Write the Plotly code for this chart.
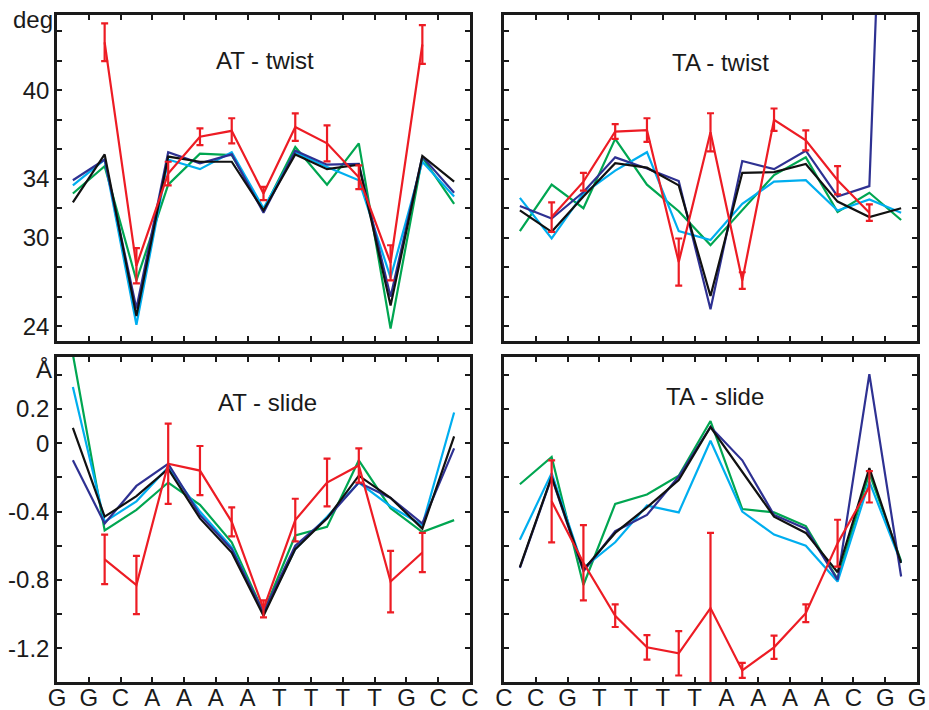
import plotly.graph_objects as go

# ---------------- data ----------------
seq_AT = ["G", "G", "C", "A", "A", "A", "A", "T", "T", "T", "T", "G", "C", "C"]
seq_TA = ["C", "C", "G", "T", "T", "T", "T", "A", "A", "A", "A", "C", "G", "G"]
steps = [0.5 + i for i in range(13)]          # base-pair steps between letters
red_steps = steps[1:12]                        # red series covers steps 2..12

# AT - twist (deg)
at_twist_green = [33.0, 34.85, 27.1, 33.6, 35.7, 35.6, 31.9, 36.15, 33.6, 36.4, 23.85, 35.45, 32.3]
at_twist_cyan = [33.55, 35.3, 24.1, 35.3, 34.65, 35.8, 32.0, 35.8, 34.8, 33.9, 27.3, 35.15, 32.8]
at_twist_blue = [33.9, 35.3, 25.2, 35.8, 35.05, 35.65, 31.7, 35.9, 34.95, 35.0, 26.0, 35.5, 33.05]
at_twist_black = [32.4, 35.65, 24.7, 35.5, 35.15, 35.15, 31.85, 35.65, 34.65, 34.95, 25.4, 35.55, 33.8]
at_twist_red = [43.25, 28.1, 34.35, 36.85, 37.25, 33.0, 37.5, 36.4, 34.1, 28.3, 43.1]
at_twist_red_err = [1.28, 1.2, 0.8, 0.57, 0.85, 0.45, 0.93, 1.22, 0.81, 1.19, 1.32]

# TA - twist (deg)
ta_twist_green = [30.45, 33.6, 32.0, 36.7, 33.6, 31.8, 29.5, 31.9, 34.25, 35.45, 31.75, 33.05, 31.2]
ta_twist_cyan = [32.7, 29.95, 33.0, 34.55, 35.8, 30.45, 29.85, 32.3, 33.8, 33.9, 31.85, 32.6, 31.7]
ta_twist_blue = [32.15, 31.3, 33.1, 35.45, 34.7, 33.85, 25.15, 35.2, 34.65, 35.9, 32.8, 33.5, 90.0]
ta_twist_black = [31.85, 30.4, 32.8, 35.05, 34.75, 33.55, 26.05, 34.4, 34.45, 35.0, 32.45, 31.4, 32.0]
ta_twist_red = [31.4, 33.8, 37.2, 37.3, 28.35, 37.15, 27.1, 38.0, 36.6, 33.9, 31.7]
ta_twist_red_err = [1.0, 0.6, 0.5, 0.8, 1.6, 1.29, 0.56, 0.76, 0.68, 0.96, 0.56]

# AT - slide (Angstrom)
at_slide_green = [0.52, -0.51, -0.39, -0.23, -0.36, -0.58, -0.99, -0.54, -0.49, -0.10, -0.38, -0.52, -0.45]
at_slide_cyan = [0.33, -0.46, -0.34, -0.14, -0.40, -0.61, -1.0, -0.62, -0.43, -0.23, -0.37, -0.48, 0.18]
at_slide_blue = [-0.10, -0.47, -0.25, -0.12, -0.42, -0.62, -0.99, -0.60, -0.44, -0.23, -0.32, -0.47, -0.03]
at_slide_black = [0.09, -0.43, -0.31, -0.15, -0.44, -0.64, -1.01, -0.62, -0.44, -0.19, -0.32, -0.50, 0.04]
at_slide_red = [-0.68, -0.83, -0.12, -0.16, -0.46, -0.97, -0.45, -0.23, -0.13, -0.81, -0.64]
at_slide_red_err = [0.145, 0.17, 0.235, 0.144, 0.085, 0.05, 0.125, 0.14, 0.10, 0.18, 0.115]

# TA - slide (Angstrom)
ta_slide_green = [-0.24, -0.08, -0.83, -0.355, -0.30, -0.19, 0.13, -0.385, -0.405, -0.485, -0.795, -0.175, -0.69]
ta_slide_cyan = [-0.565, -0.175, -0.73, -0.58, -0.365, -0.405, 0.015, -0.40, -0.535, -0.60, -0.81, -0.225, -0.70]
ta_slide_blue = [-0.73, -0.20, -0.75, -0.515, -0.42, -0.195, 0.095, -0.10, -0.42, -0.50, -0.80, 0.405, -0.78]
ta_slide_black = [-0.725, -0.195, -0.74, -0.525, -0.375, -0.215, 0.095, -0.17, -0.43, -0.525, -0.755, -0.145, -0.70]
ta_slide_red = [-0.34, -0.70, -1.01, -1.195, -1.23, -0.965, -1.33, -1.195, -0.995, -0.585, -0.255]
ta_slide_red_err = [0.24, 0.22, 0.066, 0.072, 0.13, 0.44, 0.044, 0.068, 0.052, 0.137, 0.092]

# y ticks
twist_tickvals = [24, 26, 28, 30, 32, 34, 36, 38, 40, 42, 44]
twist_ticktext = ["24", "", "", "30", "", "34", "", "", "40", "", ""]
slide_tickvals = [-1.2, -1.0, -0.8, -0.6, -0.4, -0.2, 0, 0.2, 0.4]
slide_ticktext = ["-1.2", "", "-0.8", "", "-0.4", "", "0", "0.2", ""]

panel_titles = ["AT - twist", "TA - twist", "AT - slide", "TA - slide"]

# ---------------- style ----------------
GREEN = "#00A651"
CYAN = "#00AEEF"
BLUE = "#2E3192"
BLACK = "#111111"
RED = "#ED1C24"
FONT = "Liberation Sans, Arial, sans-serif"
LW = 2.2

fig = go.Figure()

panels = [
    ("x", "y", [at_twist_green, at_twist_cyan, at_twist_blue, at_twist_black], at_twist_red, at_twist_red_err),
    ("x2", "y2", [ta_twist_green, ta_twist_cyan, ta_twist_blue, ta_twist_black], ta_twist_red, ta_twist_red_err),
    ("x3", "y3", [at_slide_green, at_slide_cyan, at_slide_blue, at_slide_black], at_slide_red, at_slide_red_err),
    ("x4", "y4", [ta_slide_green, ta_slide_cyan, ta_slide_blue, ta_slide_black], ta_slide_red, ta_slide_red_err),
]
colors = [GREEN, CYAN, BLUE, BLACK]

for xa, ya, series, red, red_err in panels:
    for s, c in zip(series, colors):
        fig.add_trace(go.Scatter(x=steps, y=s, mode="lines", xaxis=xa, yaxis=ya,
                                 line=dict(color=c, width=LW), showlegend=False, hoverinfo="skip"))
    fig.add_trace(go.Scatter(x=red_steps, y=red, mode="lines", xaxis=xa, yaxis=ya,
                             line=dict(color=RED, width=LW), showlegend=False,
                             error_y=dict(type="data", array=red_err, color=RED, thickness=2.2, width=3.5)))

W, H = 929, 710
xl = [57 / W, 470 / W]
xr = [504 / W, 917 / W]
yt = [1 - 341 / H, 1 - 15 / H]
yb = [1 - 682 / H, 1 - 357 / H]

axis_common = dict(showline=True, linecolor="#1a1a1a", linewidth=2.5, mirror="ticks",
                   ticks="inside", ticklen=5, tickwidth=2, tickcolor="#1a1a1a",
                   showgrid=False, zeroline=False, automargin=False,
                   tickfont=dict(family=FONT, size=24, color="#1a1a1a"))

xtick = dict(tickmode="array", tickvals=list(range(14)), range=[0, 13])

fig.update_layout(
    width=W, height=H, margin=dict(l=0, r=0, t=0, b=0),
    paper_bgcolor="white", plot_bgcolor="white",
    xaxis=dict(domain=xl, anchor="y", ticktext=[""] * 14, **xtick, **axis_common),
    xaxis2=dict(domain=xr, anchor="y2", ticktext=[""] * 14, **xtick, **axis_common),
    xaxis3=dict(domain=xl, anchor="y3", ticktext=seq_AT, ticklabelstandoff=-8, **xtick, **axis_common),
    xaxis4=dict(domain=xr, anchor="y4", ticktext=seq_TA, ticklabelstandoff=-8, **xtick, **axis_common),
    yaxis=dict(domain=yt, anchor="x", range=[23.0, 45.1], tickmode="array",
               tickvals=twist_tickvals, ticktext=twist_ticktext, **axis_common),
    yaxis2=dict(domain=yt, anchor="x2", range=[23.0, 45.1], tickmode="array",
                tickvals=twist_tickvals, ticktext=[""] * len(twist_tickvals), **axis_common),
    yaxis3=dict(domain=yb, anchor="x3", range=[-1.398, 0.505], tickmode="array",
                tickvals=slide_tickvals, ticktext=slide_ticktext, **axis_common),
    yaxis4=dict(domain=yb, anchor="x4", range=[-1.398, 0.505], tickmode="array",
                tickvals=slide_tickvals, ticktext=[""] * len(slide_tickvals), **axis_common),
)

title_pos = [(265, 60), (720, 63), (267, 402), (715, 396)]
for t, (px, py) in zip(panel_titles, title_pos):
    fig.add_annotation(text=t, x=px / W, y=1 - py / H, xref="paper", yref="paper",
                       showarrow=False, xanchor="center", yanchor="middle",
                       font=dict(family=FONT, size=24, color="#1a1a1a"))

fig.add_annotation(text="deg", x=33 / W, y=1 - 20 / H, xref="paper", yref="paper",
                   showarrow=False, xanchor="center", yanchor="middle",
                   font=dict(family=FONT, size=24, color="#1a1a1a"))
fig.add_annotation(text="Å", x=44 / W, y=1 - 369 / H, xref="paper", yref="paper",
                   showarrow=False, xanchor="center", yanchor="middle",
                   font=dict(family=FONT, size=24, color="#1a1a1a"))

fig.write_html("out.html", config={"displayModeBar": False},
               post_script="document.body.style.margin='0px';document.body.style.overflow='hidden';")
